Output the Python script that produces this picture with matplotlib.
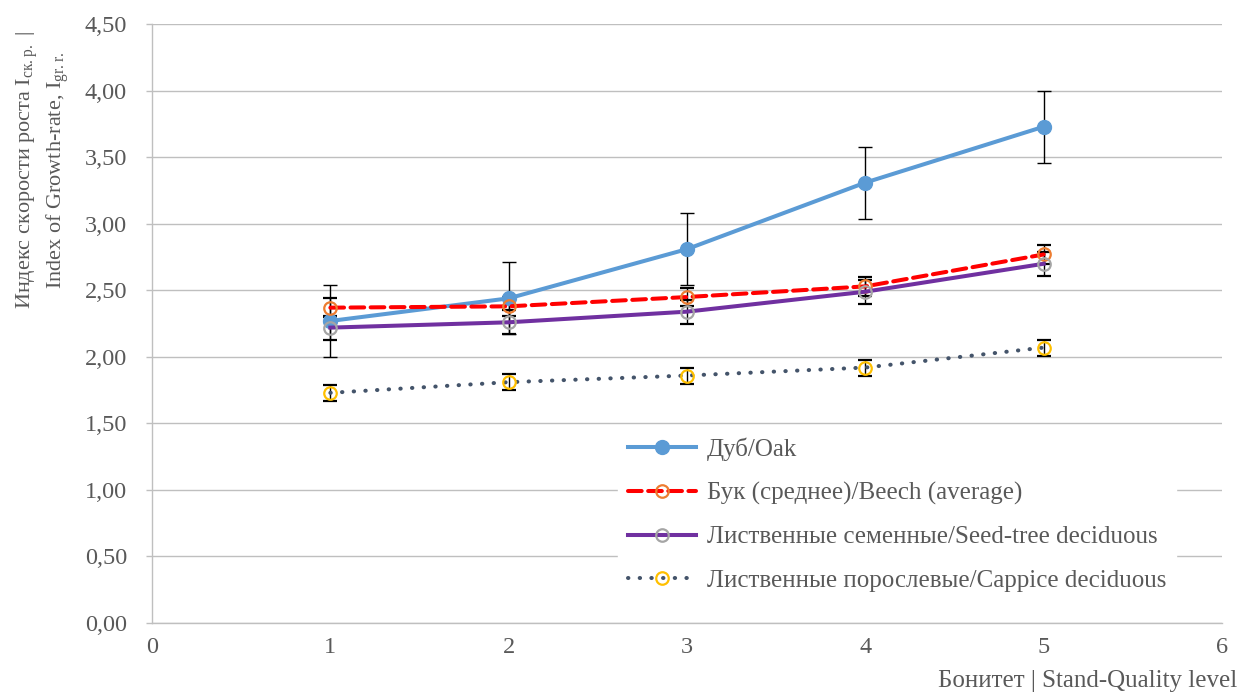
import numpy as np
import matplotlib.pyplot as plt
from matplotlib.lines import Line2D

plt.rcParams['font.family'] = ['Liberation Serif', 'DejaVu Serif']
plt.rcParams['mathtext.fontset'] = 'custom'
plt.rcParams['mathtext.rm'] = 'Liberation Serif'

# data
bonitet = [1, 2, 3, 4, 5]
oak = [2.27, 2.44, 2.81, 3.31, 3.73]
oak_err = [0.27, 0.27, 0.27, 0.27, 0.27]
beech = [2.37, 2.38, 2.45, 2.53, 2.77]
beech_err = [0.07, 0.07, 0.07, 0.07, 0.07]
seed = [2.22, 2.26, 2.34, 2.49, 2.70]
seed_err = [0.09, 0.09, 0.09, 0.09, 0.09]
coppice = [1.73, 1.81, 1.86, 1.92, 2.07]
coppice_err = [0.06, 0.06, 0.06, 0.06, 0.06]

labels = ['Дуб/Oak', 'Бук (среднее)/Beech (average)',
          'Лиственные семенные/Seed-tree deciduous',
          'Лиственные порослевые/Cappice deciduous']

txt = '#595959'
fs = 17.5
fig = plt.figure(figsize=(12.41, 6.93), dpi=100)
ax = fig.add_axes([0.1225, 0.101, 0.8622, 0.864])

eb = dict(ecolor='black', elinewidth=1.0, capsize=5, capthick=1.0)

styles = [
    dict(color='#5B9BD5', lw=2.9, ls='-', marker='o', ms=10, mfc='#5B9BD5', mec='#5B9BD5', mew=1),
    dict(color='#FF0000', lw=2.9, ls=(0, (3.4, 1.6)), marker='o', ms=9, mfc='none', mec='#ED7D31', mew=1.6),
    dict(color='#7030A0', lw=2.9, ls='-', marker='o', ms=9, mfc='none', mec='#A5A5A5', mew=1.6),
    dict(color='#44546A', lw=2.9, ls=(0, (0.1, 2.8)), marker='o', ms=9, mfc='none', mec='#FFC000', mew=1.6),
]
series = [(oak, oak_err), (beech, beech_err), (seed, seed_err), (coppice, coppice_err)]

handles = []
for (vals, err), st, lab in zip(series, styles, labels):
    ax.errorbar(bonitet, vals, yerr=err, dash_capstyle='round', zorder=3, **st, **eb)
    handles.append(Line2D([], [], dash_capstyle='round', **st))

ax.set_xlim(0, 6)
ax.set_ylim(0, 4.5)
ax.set_xticks(range(0, 7))
yt = np.arange(0, 4.51, 0.5)
ax.set_yticks(yt)
ax.set_yticklabels([f'{v:.2f}'.replace('.', ',') for v in yt])
ax.tick_params(axis='y', colors='#BFBFBF', labelcolor=txt, labelsize=fs,
               length=4, width=1, pad=14)
ax.tick_params(axis='x', colors='#BFBFBF', labelcolor=txt, labelsize=fs,
               length=0, pad=10)
ax.grid(axis='y', color='#BFBFBF', lw=1)
ax.set_axisbelow(True)
for s in ['top', 'right']:
    ax.spines[s].set_visible(False)
for s in ['left', 'bottom']:
    ax.spines[s].set_color('#BFBFBF')
    ax.spines[s].set_linewidth(1)

leg = ax.legend(handles, labels, loc='center left', bbox_to_anchor=(0.4355, 0.181),
                borderaxespad=0, frameon=True, framealpha=1, edgecolor='white',
                fancybox=False, fontsize=18, handlelength=2.7, handletextpad=0.45,
                labelspacing=0.83, borderpad=0.4)
for t in leg.get_texts():
    t.set_color(txt)

fig.text(0.035, 0.755,
         'Индекс скорости роста I$_{\\mathregular{ск{.}р{.}}}$ |\n'
         'Index of Growth-rate, I$_{\\mathregular{gr{.}r{.}}}$',
         rotation=90, ha='center', va='center', fontsize=16, color=txt,
         multialignment='center', linespacing=1.2)
fig.text(0.997, 0.017, 'Бонитет | Stand-Quality level', ha='right', va='center',
         fontsize=18, color=txt)

fig.savefig('out.png', dpi=100)
